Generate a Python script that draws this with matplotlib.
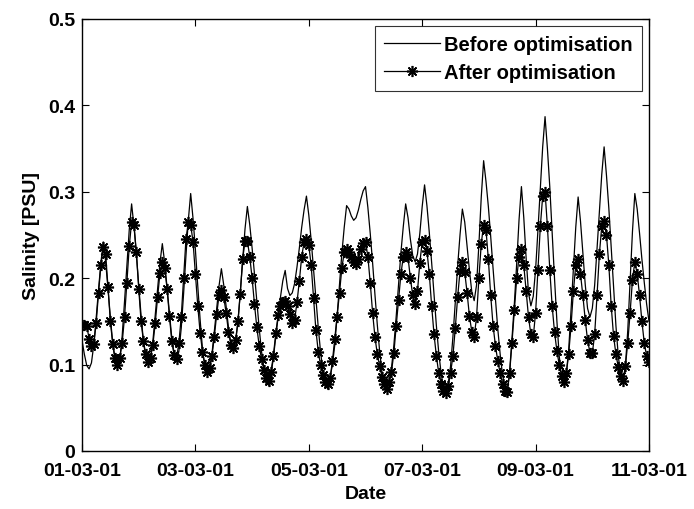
import numpy as np
import matplotlib
matplotlib.use("Agg")
import matplotlib.pyplot as plt

# hourly time axis in days since 01-03-01 (241 samples, 0..240 h)
hours = np.arange(0, 241)

before = [
    0.128, 0.112, 0.099, 0.095,
    0.102, 0.123, 0.154, 0.187, 0.218, 0.242,
    0.219, 0.188, 0.155, 0.125, 0.104, 0.097,
    0.106, 0.133, 0.173, 0.215, 0.256, 0.286,
    0.260, 0.229, 0.192, 0.157, 0.127, 0.108, 0.101,
    0.108, 0.127, 0.157, 0.188, 0.218, 0.240,
    0.218, 0.189, 0.159, 0.131, 0.112, 0.105,
    0.115, 0.142, 0.182, 0.226, 0.267, 0.298,
    0.269, 0.233, 0.191, 0.152, 0.118, 0.097, 0.089,
    0.095, 0.112, 0.138, 0.165, 0.191, 0.211,
    0.192, 0.167, 0.143, 0.125, 0.118,
    0.126, 0.149, 0.184, 0.221, 0.257, 0.283,
    0.262, 0.235, 0.205, 0.173, 0.142, 0.115, 0.095, 0.080, 0.076,
    0.088, 0.108, 0.132, 0.155, 0.178, 0.197, 0.209,
    0.188, 0.180,
    0.183, 0.194, 0.213, 0.235, 0.259, 0.279, 0.295,
    0.273, 0.244, 0.211, 0.177, 0.143, 0.114, 0.092, 0.076, 0.072,
    0.085, 0.100, 0.123, 0.157, 0.193, 0.229, 0.259, 0.284,
    0.280, 0.272, 0.267, 0.270,
    0.279, 0.291, 0.301, 0.306,
    0.282, 0.252, 0.218, 0.181, 0.146, 0.115, 0.091, 0.075, 0.070,
    0.082, 0.096, 0.122, 0.156, 0.193, 0.230, 0.260, 0.286,
    0.270, 0.245, 0.226, 0.219,
    0.228, 0.252, 0.283, 0.308,
    0.284, 0.253, 0.218, 0.181, 0.145, 0.114, 0.090, 0.073, 0.068,
    0.078, 0.098, 0.132, 0.172, 0.214, 0.250, 0.280,
    0.265, 0.237, 0.209, 0.184, 0.174,
    0.192, 0.239, 0.294, 0.336,
    0.312, 0.283, 0.248, 0.211, 0.176, 0.141, 0.112, 0.088, 0.074, 0.069,
    0.092, 0.130, 0.170, 0.217, 0.268, 0.306,
    0.270, 0.223, 0.183, 0.168,
    0.179, 0.210, 0.256, 0.305, 0.352, 0.387,
    0.350, 0.306, 0.253, 0.200, 0.151, 0.110, 0.085, 0.076,
    0.090, 0.117, 0.163, 0.212, 0.259, 0.294,
    0.266, 0.229, 0.193, 0.165, 0.155,
    0.165, 0.192, 0.234, 0.278, 0.320, 0.352,
    0.319, 0.281, 0.235, 0.189, 0.145, 0.110, 0.088, 0.080,
    0.098, 0.139, 0.196, 0.254, 0.298,
    0.280, 0.252, 0.222, 0.195, 0.170, 0.150,
]

after = [
    0.146, 0.146, 0.145, 0.130, 0.121, 0.124, 0.148, 0.183, 0.215, 0.236,
    0.228, 0.190, 0.150, 0.124, 0.108, 0.099,
    0.108, 0.125, 0.155, 0.195, 0.237, 0.265, 0.262, 0.230, 0.188, 0.150,
    0.127, 0.112, 0.103,
    0.108, 0.123, 0.148, 0.178, 0.206, 0.219, 0.212, 0.188, 0.156, 0.127,
    0.111, 0.107,
    0.125, 0.155, 0.200, 0.245, 0.265, 0.262, 0.242, 0.205, 0.168, 0.137,
    0.115, 0.100, 0.091,
    0.096, 0.110, 0.132, 0.158, 0.180, 0.186, 0.178, 0.160, 0.138, 0.123,
    0.119,
    0.128, 0.150, 0.182, 0.222, 0.243, 0.243, 0.225, 0.200, 0.170, 0.143,
    0.122, 0.106, 0.094, 0.084, 0.081,
    0.092, 0.110, 0.136, 0.157, 0.168, 0.173, 0.174, 0.168, 0.158, 0.148,
    0.152, 0.172, 0.197, 0.225, 0.242, 0.245, 0.238, 0.215, 0.177, 0.140,
    0.115, 0.099, 0.088, 0.080, 0.077,
    0.084, 0.104, 0.130, 0.155, 0.183, 0.212, 0.230, 0.234, 0.230, 0.224,
    0.219, 0.216, 0.222, 0.234, 0.241, 0.242,
    0.225, 0.195, 0.160, 0.132, 0.112, 0.098, 0.086, 0.077, 0.072,
    0.080, 0.092, 0.113, 0.145, 0.175, 0.205, 0.225, 0.230, 0.224, 0.200,
    0.180, 0.170, 0.185, 0.218, 0.242, 0.244, 0.232, 0.205, 0.168, 0.135,
    0.110, 0.090, 0.078, 0.070, 0.067, 0.075, 0.090, 0.110, 0.142, 0.178,
    0.208, 0.219, 0.207, 0.183, 0.156, 0.138, 0.132, 0.155, 0.200, 0.240,
    0.262, 0.256, 0.222, 0.180, 0.145, 0.122, 0.104, 0.090, 0.078, 0.070,
    0.068,
    0.090, 0.125, 0.163, 0.200, 0.225, 0.234, 0.215, 0.185, 0.155, 0.135,
    0.132, 0.160, 0.210, 0.260, 0.295, 0.300, 0.260, 0.210, 0.168, 0.138,
    0.116, 0.100, 0.087, 0.080, 0.090, 0.112, 0.145, 0.185, 0.215, 0.222,
    0.205, 0.180, 0.152, 0.128, 0.114, 0.113, 0.135, 0.180, 0.228, 0.260,
    0.266, 0.250, 0.215, 0.168, 0.133, 0.112, 0.097, 0.087, 0.081, 0.098,
    0.125, 0.160, 0.198, 0.219, 0.205, 0.180, 0.150, 0.125, 0.110, 0.103,
]

tick_days = [0, 2, 4, 6, 8, 10]
tick_labels = ["01-03-01", "03-03-01", "05-03-01", "07-03-01", "09-03-01", "11-03-01"]
y_ticks = [0, 0.1, 0.2, 0.3, 0.4, 0.5]
y_labels = ["0", "0.1", "0.2", "0.3", "0.4", "0.5"]

n = min(len(before), len(after), len(hours))
t = hours[:n] / 24.0

plt.rcParams['font.family'] = ['Liberation Sans', 'DejaVu Sans']
fig = plt.figure(figsize=(6.94, 5.10), dpi=100)
ax = fig.add_axes([82 / 694, 1 - 452 / 510, (649 - 82) / 694, (452 - 20) / 510])

ax.plot(t, before[:n], color='black', lw=0.9, label='Before optimisation')
ax.plot(t, after[:n], color='black', lw=0.9, marker=(8, 2, 0), markersize=8,
        markeredgewidth=1.2, label='After optimisation')

ax.set_xlim(0, 10)
ax.set_ylim(0, 0.5)
ax.set_xticks(tick_days)
ax.set_xticklabels(tick_labels)
ax.set_yticks(y_ticks)
ax.set_yticklabels(y_labels)
ax.tick_params(direction='in', length=5, width=0.8, top=True, right=True,
               labelsize=14)
ax.tick_params(axis='x', pad=8)
ax.tick_params(axis='y', pad=5)
for lab in ax.get_xticklabels() + ax.get_yticklabels():
    lab.set_fontweight('bold')
for s in ax.spines.values():
    s.set_linewidth(1.0)

ax.set_xlabel('Date', fontsize=14, fontweight='bold', labelpad=4)
ax.set_ylabel('Salinity [PSU]', fontsize=14, fontweight='bold', labelpad=6)

leg = ax.legend(loc='upper right', frameon=True, fancybox=False,
                edgecolor='black', handlelength=2.8, handletextpad=0.2,
                borderpad=0.45, labelspacing=0.45, borderaxespad=0.35,
                prop={'weight': 'bold', 'size': 14.5})
leg.get_frame().set_linewidth(0.8)

fig.savefig('out.png', dpi=100)
